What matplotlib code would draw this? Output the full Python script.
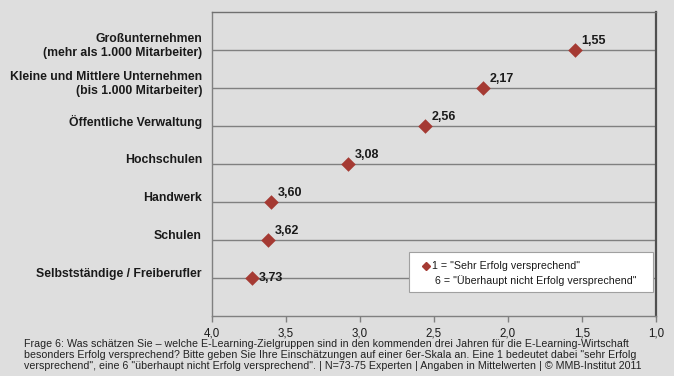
import matplotlib
matplotlib.use("Agg")
import matplotlib.pyplot as plt
from matplotlib.patches import Rectangle
from matplotlib.transforms import offset_copy, blended_transform_factory

plt.rcParams['font.family'] = ['Liberation Sans', 'DejaVu Sans']

categories = [
    "Großunternehmen\n(mehr als 1.000 Mitarbeiter)",
    "Kleine und Mittlere Unternehmen\n(bis 1.000 Mitarbeiter)",
    "Öffentliche Verwaltung",
    "Hochschulen",
    "Handwerk",
    "Schulen",
    "Selbstständige / Freiberufler",
]
values = [1.55, 2.17, 2.56, 3.08, 3.60, 3.62, 3.73]
x_ticks = [4.0, 3.5, 3.0, 2.5, 2.0, 1.5, 1.0]
x_tick_labels = ["4,0", "3,5", "3,0", "2,5", "2,0", "1,5", "1,0"]
legend_lines = ['1 = "Sehr Erfolg versprechend"',
                '6 = "Überhaupt nicht Erfolg versprechend"']
footnote = ("Frage 6: Was schätzen Sie – welche E-Learning-Zielgruppen sind in den kommenden drei Jahren für die E-Learning-Wirtschaft\n"
            "besonders Erfolg versprechend? Bitte geben Sie Ihre Einschätzungen auf einer 6er-Skala an. Eine 1 bedeutet dabei \"sehr Erfolg\n"
            "versprechend\", eine 6 \"überhaupt nicht Erfolg versprechend\". | N=73-75 Experten | Angaben in Mittelwerten | © MMB-Institut 2011")

BG = "#dedede"
RED = "#a53a33"
GRID = "#808080"
TXT = "#1a1a1a"

fig = plt.figure(figsize=(6.74, 3.76), dpi=100, facecolor=BG)
ax = fig.add_axes([212 / 674, 1 - 316 / 376, 444 / 674, 304 / 376])
ax.set_facecolor(BG)

ypos = list(range(1, len(categories) + 1))
ax.set_xlim(4.0, 1.0)
ax.set_ylim(len(categories) + 1, 0)

for y in ypos:
    ax.axhline(y, color=GRID, lw=1.0, zorder=1)

ax.scatter(values, ypos, marker="D", s=55, color=RED, zorder=3, linewidths=0)

for v, y in zip(values, ypos):
    dy = 0 if v == max(values) else 9
    ax.annotate(f"{v:.2f}".replace(".", ","), (v, y), xytext=(7, dy),
                textcoords="offset pixels", ha="left", va="center",
                fontsize=9, fontweight="bold", color=TXT, zorder=4)

# category labels to the left of the plot area
trans = blended_transform_factory(ax.transAxes, ax.transData)
trans = offset_copy(trans, fig=fig, x=-10, y=4, units="dots")
for label, y in zip(categories, ypos):
    ax.text(0, y, label, transform=trans, ha="right", va="center",
            fontsize=8.8, fontweight="bold", color=TXT,
            multialignment="right", linespacing=1.3)
ax.set_yticks([])

ax.set_xticks(x_ticks)
ax.set_xticklabels(x_tick_labels, fontsize=8.3, color=TXT)
ax.tick_params(axis="x", direction="out", length=4, width=1, color=GRID, pad=4)

for side in ["left", "bottom"]:
    ax.spines[side].set_color(GRID)
    ax.spines[side].set_linewidth(1.0)
ax.spines["top"].set_color("#707070")
ax.spines["top"].set_linewidth(1.0)
ax.spines["right"].set_color("#505050")
ax.spines["right"].set_linewidth(1.6)

# legend box with scale explanation
box = Rectangle((0.4437, 0.0789), 0.5495, 0.1316, transform=ax.transAxes,
                facecolor="white", edgecolor="#a0a0a0", lw=0.8, zorder=5)
ax.add_patch(box)
ax.plot([0.482], [0.1645], marker="D", color=RED, markersize=4.5,
        transform=ax.transAxes, zorder=6, clip_on=False, ls="none")
ax.text(0.4955, 0.1645, legend_lines[0], transform=ax.transAxes, ha="left",
        va="center", fontsize=7.7, color=TXT, zorder=6)
ax.text(0.503, 0.115, legend_lines[1], transform=ax.transAxes, ha="left",
        va="center", fontsize=7.7, color=TXT, zorder=6)

fig.text(24 / 674, 1 - 339 / 376, footnote, ha="left", va="top", fontsize=7.7,
         color="#222222", linespacing=1.15)

fig.savefig("out.png", dpi=100, facecolor=BG)
